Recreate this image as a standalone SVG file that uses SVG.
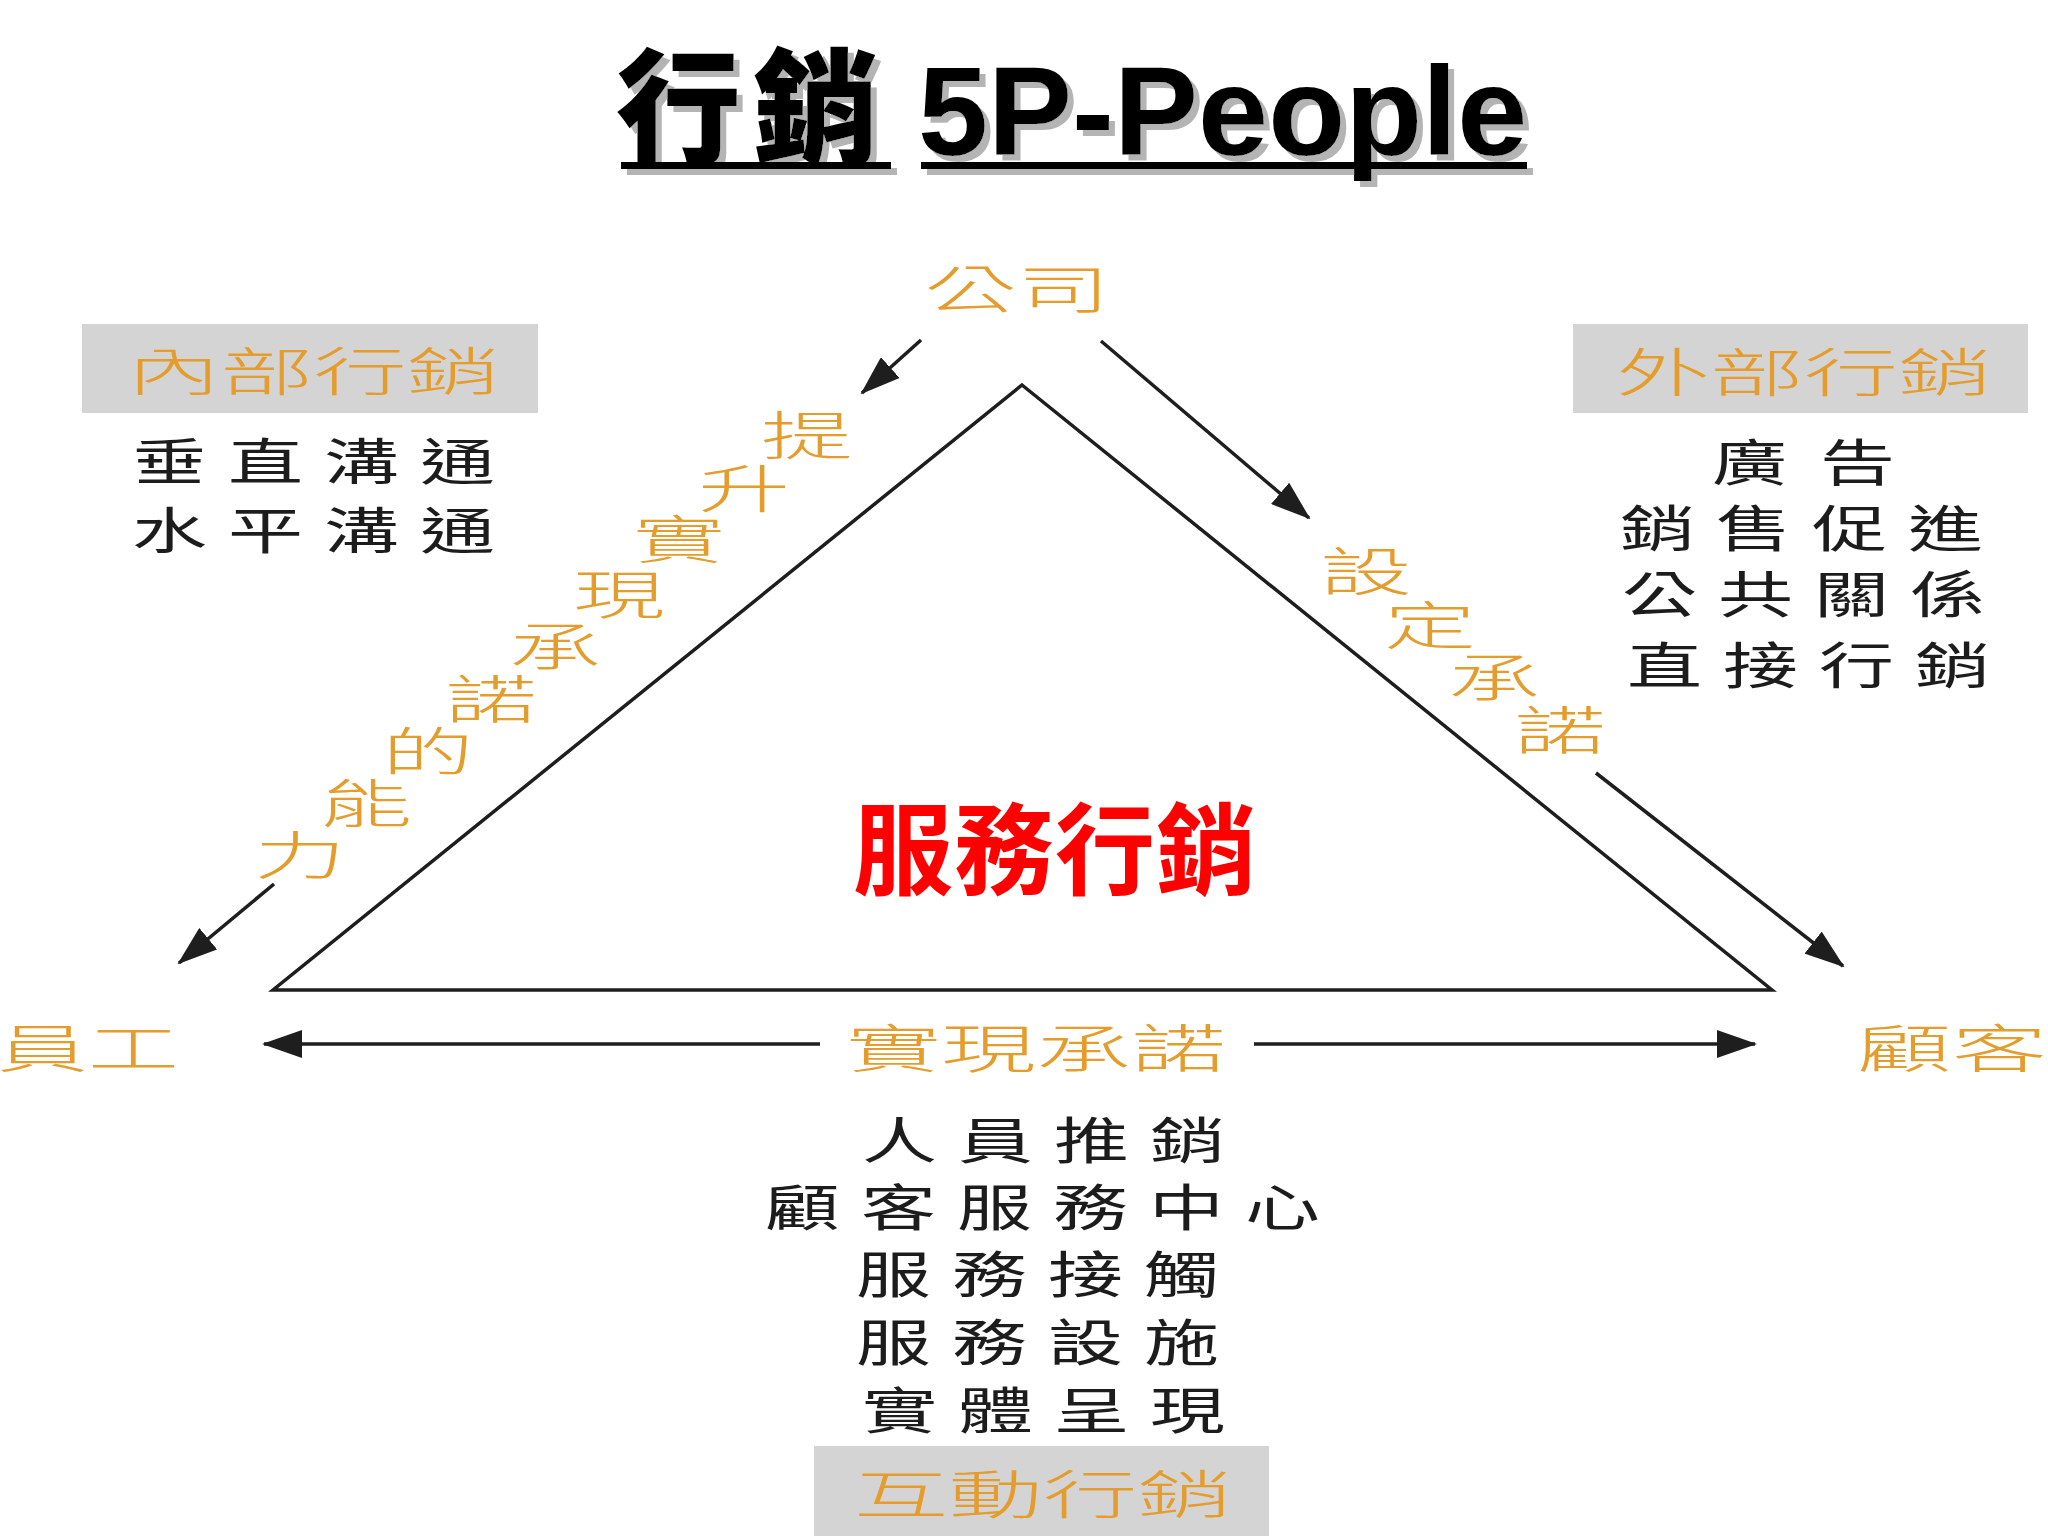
<svg xmlns="http://www.w3.org/2000/svg" width="2048" height="1536" viewBox="0 0 2048 1536">
<defs>
<style>
.org{font-family:'Noto Sans CJK TC','Noto Sans CJK SC',sans-serif;font-size:52px;font-weight:300;fill:#E49C2C}
.blk{font-family:'Noto Sans CJK TC','Noto Sans CJK SC',sans-serif;font-size:50px;fill:#1c1c1c;letter-spacing:14px}
.box{fill:#D4D4D4}
.edge{fill:none;stroke:#1e1e1e;stroke-width:3.5;stroke-linejoin:miter}
.arr{fill:none;stroke:#1e1e1e;stroke-width:3.5;marker-end:url(#head)}
</style>
<marker id="head" markerUnits="userSpaceOnUse" markerWidth="40" markerHeight="28" viewBox="0 0 40 28" refX="38" refY="14" orient="auto">
<path d="M0,0 L40,14 L0,28 Z" fill="#1e1e1e"/>
</marker>
<filter id="shadow" x="-5%" y="-10%" width="115%" height="140%">
<feDropShadow dx="6" dy="6" stdDeviation="0.6" flood-color="#b4b4b4" flood-opacity="1"/>
</filter>
</defs>
<rect width="2048" height="1536" fill="#ffffff"/>

<g id="title" filter="url(#shadow)">
<text x="616" y="154" font-family="'Noto Sans CJK TC','Noto Sans CJK SC',sans-serif" font-weight="900" font-size="125" letter-spacing="12">行銷</text>
<rect x="621" y="162" width="270" height="7" fill="#000"/>
<text x="918" y="155" font-family="'Liberation Sans',Arial,sans-serif" font-weight="700" font-size="126">5P-People</text>
<rect x="921" y="162" width="606" height="7" fill="#000"/>
</g>

<g id="triangle">
<path class="edge" d="M1022,385 L1772,990 L273,990 Z"/>
</g>

<g id="connectors">
<line class="arr" x1="921" y1="340" x2="862" y2="393"/>
<line class="arr" x1="1101" y1="341" x2="1309" y2="518"/>
<line class="arr" x1="274" y1="884" x2="179" y2="963"/>
<line class="arr" x1="1596" y1="773" x2="1843" y2="966"/>
<line class="arr" x1="820" y1="1044" x2="264" y2="1044"/>
<line class="arr" x1="1254" y1="1044" x2="1755" y2="1044"/>
</g>

<g id="company">
<text class="org" x="924" y="309" textLength="186" lengthAdjust="spacingAndGlyphs">公司</text>
</g>

<g id="employee">
<text class="org" x="-3" y="1068" textLength="182" lengthAdjust="spacingAndGlyphs">員工</text>
</g>

<g id="customer">
<text class="org" x="1857" y="1068" textLength="190" lengthAdjust="spacingAndGlyphs">顧客</text>
</g>

<g id="deliver-promise">
<text class="org" x="846" y="1068" textLength="380" lengthAdjust="spacingAndGlyphs">實現承諾</text>
</g>

<g id="service-marketing">
<text x="853" y="887" font-family="'Noto Sans CJK TC','Noto Sans CJK SC',sans-serif" font-weight="700" font-size="100" letter-spacing="1" fill="#FF0000">服務行銷</text>
</g>

<g id="enable-promise">
<text class="org" x="761" y="455" textLength="92" lengthAdjust="spacingAndGlyphs">提</text>
<text class="org" x="698" y="508" textLength="92" lengthAdjust="spacingAndGlyphs">升</text>
<text class="org" x="633" y="559" textLength="92" lengthAdjust="spacingAndGlyphs">實</text>
<text class="org" x="573" y="614" textLength="92" lengthAdjust="spacingAndGlyphs">現</text>
<text class="org" x="509" y="666" textLength="92" lengthAdjust="spacingAndGlyphs">承</text>
<text class="org" x="445" y="719" textLength="92" lengthAdjust="spacingAndGlyphs">諾</text>
<text class="org" x="382" y="771" textLength="92" lengthAdjust="spacingAndGlyphs">的</text>
<text class="org" x="320" y="823" textLength="92" lengthAdjust="spacingAndGlyphs">能</text>
<text class="org" x="254" y="875" textLength="92" lengthAdjust="spacingAndGlyphs">力</text>
</g>

<g id="make-promise">
<text class="org" x="1320" y="591" textLength="92" lengthAdjust="spacingAndGlyphs">設</text>
<text class="org" x="1384" y="645" textLength="92" lengthAdjust="spacingAndGlyphs">定</text>
<text class="org" x="1448" y="697" textLength="92" lengthAdjust="spacingAndGlyphs">承</text>
<text class="org" x="1514" y="750" textLength="92" lengthAdjust="spacingAndGlyphs">諾</text>
</g>

<g id="internal-marketing">
<rect class="box" x="82" y="324" width="456" height="89"/>
<text class="org" x="127" y="391" textLength="373" lengthAdjust="spacingAndGlyphs">內部行銷</text>
<text class="blk" transform="translate(132,480) scale(1.5 1)">垂直溝通</text>
<text class="blk" transform="translate(132,549) scale(1.5 1)">水平溝通</text>
</g>

<g id="external-marketing">
<rect class="box" x="1573" y="324" width="455" height="89"/>
<text class="org" x="1616" y="392" textLength="376" lengthAdjust="spacingAndGlyphs">外部行銷</text>
<text class="blk" transform="translate(1712,481) scale(1.5 1)" style="letter-spacing:22px">廣告</text>
<text class="blk" transform="translate(1620,547) scale(1.5 1)">銷售促進</text>
<text class="blk" transform="translate(1622,613) scale(1.5 1)">公共關係</text>
<text class="blk" transform="translate(1627,684) scale(1.5 1)">直接行銷</text>
</g>

<g id="interactive-marketing">
<text class="blk" transform="translate(862,1159) scale(1.5 1)">人員推銷</text>
<text class="blk" transform="translate(765,1226) scale(1.5 1)">顧客服務中心</text>
<text class="blk" transform="translate(856,1293) scale(1.5 1)">服務接觸</text>
<text class="blk" transform="translate(856,1361) scale(1.5 1)">服務設施</text>
<text class="blk" transform="translate(862,1429) scale(1.5 1)">實體呈現</text>
<rect class="box" x="814" y="1446" width="455" height="90"/>
<text class="org" x="854" y="1514" textLength="378" lengthAdjust="spacingAndGlyphs">互動行銷</text>
</g>
</svg>
